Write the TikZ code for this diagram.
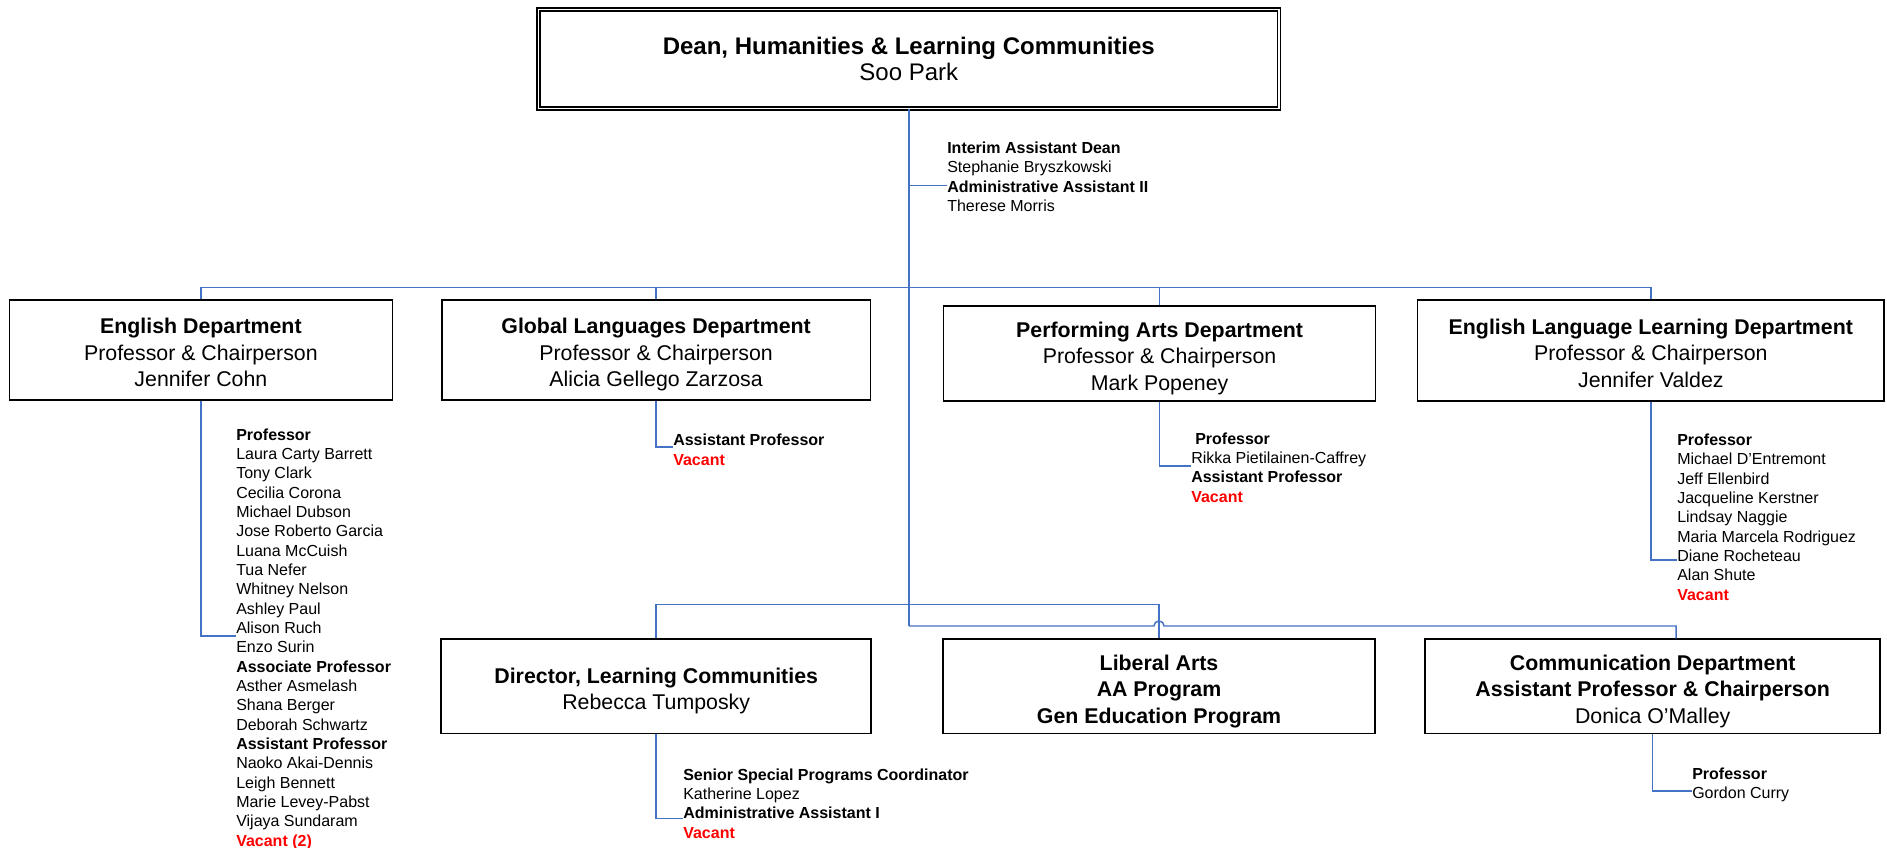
\documentclass[tikz,border=0pt]{standalone}
\usepackage{fontspec}
\setmainfont{Liberation Sans}
\definecolor{linkblue}{RGB}{68,114,196}
\definecolor{vacred}{RGB}{255,0,0}
\newcommand{\posttitle}[1]{\textbf{#1}}
\newcommand{\vacancy}[1]{\textcolor{vacred}{\textbf{#1}}}
\newcommand{\firstln}{\rule{0pt}{19.6pt}}
\newcommand{\lastln}{\rule[-4pt]{0pt}{0pt}}
\tikzset{
  unit/.style={draw, line width=1.2pt, inner sep=0pt, align=center,
    font=\fontsize{16}{19.9}\selectfont, minimum height=75pt},
  deanbox/.style={draw, double, line width=1pt, double distance=1.2pt,
    inner sep=0pt, align=center, font=\fontsize{18}{19.9}\selectfont},
  staff/.style={anchor=north west, inner sep=0pt, align=left,
    font=\fontsize{12}{14.5}\selectfont},
  link/.style={draw=linkblue, line width=1.1pt}
}

\begin{document}
\begin{tikzpicture}[x=0.75pt, y=-0.75pt]
    \useasboundingbox (0, 0) rectangle (1887, 848);

    \path (908.8, 59) node [deanbox, minimum width=555.6pt, minimum height=74.4pt] (dean)
	{\textbf{Dean, Humanities \& Learning Communities}\\Soo Park};
    \path (947, 141.7) node [staff] (deanstaff)
	{\posttitle{Interim Assistant Dean}\\Stephanie Bryszkowski\\
	 \posttitle{Administrative Assistant II}\\Therese Morris};

    \path (200.9, 349.9) node [unit, minimum width=287.3pt] (eng)
	{\firstln\textbf{English Department}\\Professor \& Chairperson\\Jennifer Cohn\lastln};
    \path (656.1, 349.9) node [unit, minimum width=321.6pt] (glo)
	{\firstln\textbf{Global Languages Department}\\Professor \& Chairperson\\Alicia Gellego Zarzosa\lastln};
    \path (1159.6, 353.3) node [unit, minimum width=324pt, minimum height=71.3pt] (per)
	{\firstln\textbf{Performing Arts Department}\\Professor \& Chairperson\\Mark Popeney\lastln};
    \path (1650.8, 350.5) node [unit, minimum width=350pt, minimum height=76pt] (ell)
	{\firstln\textbf{English Language Learning Department}\\Professor \& Chairperson\\Jennifer Valdez\lastln};

    \path (656.2, 686.3) node [unit, minimum width=322.6pt, minimum height=70.8pt] (dir)
	{\firstln\textbf{Director, Learning Communities}\\Rebecca Tumposky\lastln};
    \path (1159, 686.3) node [unit, minimum width=323.6pt, minimum height=70.8pt] (lib)
	{\firstln\textbf{Liberal Arts}\\\textbf{AA Program}\\\textbf{Gen Education Program}\lastln};
    \path (1652.7, 686.3) node [unit, minimum width=341.3pt, minimum height=70.8pt] (com)
	{\firstln\textbf{Communication Department}\\\textbf{Assistant Professor \& Chairperson}\\Donica O’Malley\lastln};

    \path (236, 428.3) node [staff] (engstaff)
	{\posttitle{Professor}\\Laura Carty Barrett\\Tony Clark\\Cecilia Corona\\Michael Dubson\\
	 Jose Roberto Garcia\\Luana McCuish\\Tua Nefer\\Whitney Nelson\\Ashley Paul\\Alison Ruch\\
	 Enzo Surin\\\posttitle{Associate Professor}\\Asther Asmelash\\Shana Berger\\Deborah Schwartz\\
	 \posttitle{Assistant Professor}\\Naoko Akai-Dennis\\Leigh Bennett\\Marie Levey-Pabst\\
	 Vijaya Sundaram\\\vacancy{Vacant (2)}};
    \path (673, 434) node [staff] (glostaff)
	{\posttitle{Assistant Professor}\\\vacancy{Vacant}};
    \path (1191, 432.3) node [staff] (perstaff)
	{\hspace*{3pt}\posttitle{Professor}\\Rikka Pietilainen-Caffrey\\
	 \posttitle{Assistant Professor}\\\vacancy{Vacant}};
    \path (1677, 433.5) node [staff] (ellstaff)
	{\posttitle{Professor}\\Michael D’Entremont\\Jeff Ellenbird\\Jacqueline Kerstner\\
	 Lindsay Naggie\\Maria Marcela Rodriguez\\Diane Rocheteau\\Alan Shute\\\vacancy{Vacant}};
    \path (683, 768.3) node [staff] (dirstaff)
	{\posttitle{Senior Special Programs Coordinator}\\Katherine Lopez\\
	 \posttitle{Administrative Assistant I}\\\vacancy{Vacant}};
    \path (1692, 767.3) node [staff] (comstaff)
	{\posttitle{Professor}\\Gordon Curry};

    % trunk and busses
    \coordinate (bus) at (908.8, 287.3);
    \coordinate (mid) at (908.8, 604.7);
    \coordinate (low) at (908.8, 626);
    \coordinate (hop) at (low -| lib.north);
    \draw [link] (dean.south) -- (low);
    \draw [link] (eng.north) |- (bus) -| (ell.north);
    \draw [link] (glo.north) |- (bus);
    \draw [link] (per.north) |- (bus);
    \draw [link] (dir.north) |- (mid) -| (lib.north);
    \draw [link] (low) -- ([xshift=-3.8pt]hop) arc [start angle=180, end angle=0, radius=3.8pt]
	-| ([xshift=17.5pt]com.north);

    % staff lists
    \coordinate (deantick) at ([yshift=-33pt]deanstaff.north west);
    \coordinate (engtick) at ([yshift=-155.8pt]engstaff.north west);
    \coordinate (glotick) at ([yshift=-9.8pt]glostaff.north west);
    \coordinate (pertick) at ([yshift=-25.3pt]perstaff.north west);
    \coordinate (elltick) at ([yshift=-94.9pt]ellstaff.north west);
    \coordinate (dirtick) at ([yshift=-37.5pt]dirstaff.north west);
    \coordinate (comtick) at ([yshift=-17.8pt]comstaff.north west);
    \draw [link] (dean.south |- deantick) -- (deantick);
    \draw [link] (eng.south) |- (engtick);
    \draw [link] (glo.south) |- (glotick);
    \draw [link] (per.south) |- (pertick);
    \draw [link] (ell.south) |- (elltick);
    \draw [link] (dir.south) |- (dirtick);
    \draw [link] (com.south) |- (comtick);
\end{tikzpicture}
\end{document}
